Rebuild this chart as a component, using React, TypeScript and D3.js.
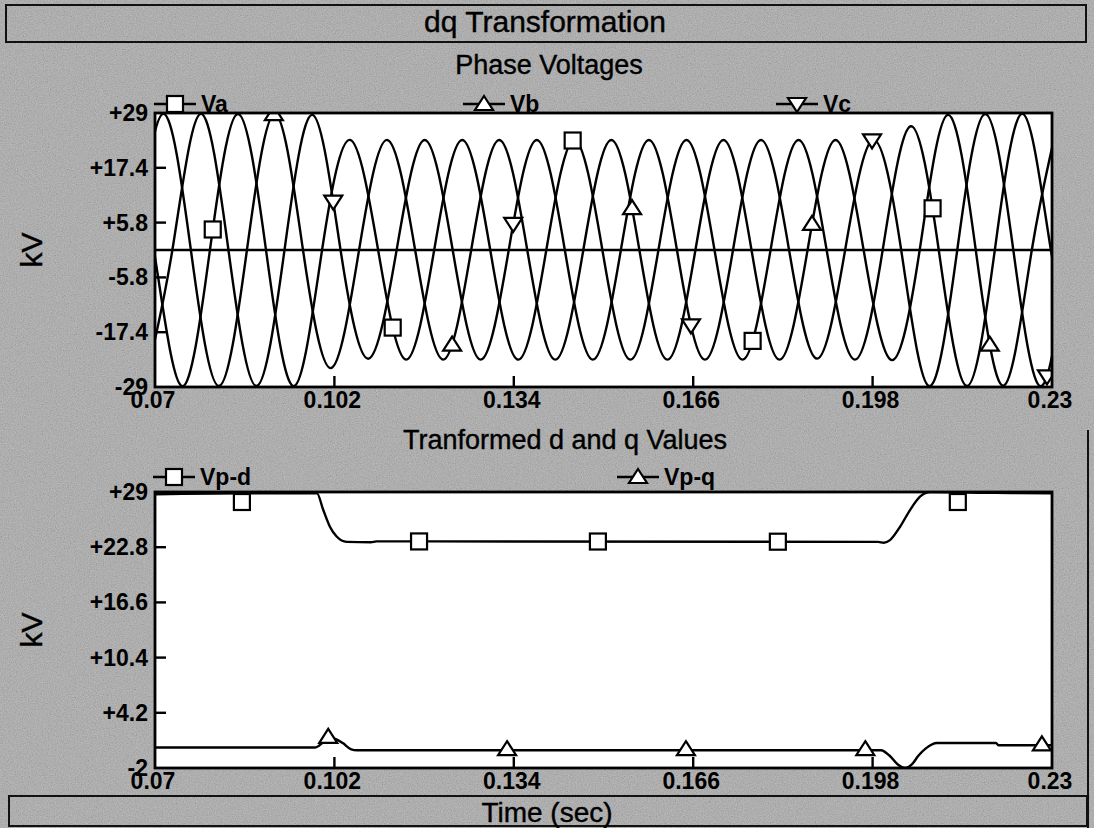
import React, { useEffect, useRef } from "react";
import * as d3 from "d3";

// Axis ticks
const X_TICKS = [0.07, 0.102, 0.134, 0.166, 0.198, 0.23];
const TOP_Y_TICKS = [29, 17.4, 5.8, -5.8, -17.4, -29];
const BOTTOM_Y_TICKS = [29, 22.8, 16.6, 10.4, 4.2, -2];

// Phase voltages: successive half-cycle extremes (kV), 50 Hz => 0.01 s apart
const HALF_CYCLE = 0.01;
const VA_START = 0.0648;
const VA_EXTREMES = [28.8, -28.8, 28.8, -28.8, 23.3, -23.2, 23.3, -23.2, 23.3, -23.2, 23.3, -23.2, 23.3, -23.2, 26.2, -28.8, 28.8, -28.8];
const VB_START = 0.0614;
const VB_EXTREMES = [-28.8, 28.8, -28.8, 28.8, -25.0, 23.3, -23.2, 23.3, -23.2, 23.3, -23.2, 23.3, -23.2, 23.3, -23.3, 28.6, -28.7, 28.8];
const VC_START = 0.0681;
const VC_EXTREMES = [-28.8, 28.8, -28.8, 28.6, -23.0, 23.3, -23.2, 23.3, -23.2, 23.3, -23.2, 23.3, -23.0, 23.3, -28.8, 28.8, -28.8, 28.8];

// Marker times on each trace (s)
const VA_MARKERS = [0.0803, 0.1124, 0.1445, 0.1766, 0.2087];
const VB_MARKERS = [0.0912, 0.123, 0.1551, 0.1872, 0.2189];
const VC_MARKERS = [0.1018, 0.1339, 0.1656, 0.1979, 0.2291];
const VPD_MARKERS = [0.0855, 0.1171, 0.149, 0.1811, 0.2132];
const VPQ_MARKERS = [0.1009, 0.1328, 0.1647, 0.1967, 0.2282];

// Transformed d and q values
const VPD_T = [0.07, 0.0855, 0.0989, 0.1, 0.1012, 0.1024, 0.1042, 0.1085, 0.1095, 0.199, 0.2, 0.2011, 0.2029, 0.2047, 0.2065, 0.2083, 0.22, 0.23];
const VPD_V = [28.75, 28.85, 28.85, 27.0, 25.1, 24.0, 23.4, 23.35, 23.45, 23.4, 23.3, 23.6, 25.1, 27.0, 28.5, 29.0, 28.9, 28.85];
const VPQ_T = [0.07, 0.0985, 0.1, 0.101, 0.102, 0.1035, 0.105, 0.106, 0.1995, 0.201, 0.2025, 0.2038, 0.205, 0.2062, 0.2075, 0.2095, 0.22, 0.2205, 0.23];
const VPQ_V = [0.3, 0.3, 0.9, 1.4, 1.3, 0.8, 0.1, 0.0, 0.0, -0.6, -1.6, -2.0, -1.6, -0.6, 0.2, 0.8, 0.8, 0.55, 0.55];

const FONT = "'Liberation Sans', Arial, sans-serif";
const W = 1094;
const H = 828;
const PLOT_L = 155;
const PLOT_R = 1052;
const TOP_T = 113;
const TOP_B = 387;
const BOT_T = 492;
const BOT_B = 768;
const LINE_W = 2.4;

type Pt = [number, number];

function phasePoints(start: number, extremes: number[]): Pt[] {
  const pts: Pt[] = [];
  extremes.forEach((v, i) => {
    const t = start + i * HALF_CYCLE;
    pts.push([t, v]);
    if (i < extremes.length - 1) pts.push([t + HALF_CYCLE / 2, 0]);
  });
  return pts;
}

function yOnPath(path: SVGPathElement, px: number): number {
  const total = path.getTotalLength();
  let lo = 0;
  let hi = total;
  for (let i = 0; i < 40; i++) {
    const mid = (lo + hi) / 2;
    const p = path.getPointAtLength(mid);
    if (p.x < px) lo = mid;
    else hi = mid;
  }
  return path.getPointAtLength((lo + hi) / 2).y;
}

type MarkerKind = "square" | "up" | "down";

function drawMarker(g: d3.Selection<SVGGElement, unknown, null, undefined>, kind: MarkerKind, cx: number, cy: number) {
  if (kind === "square") {
    g.append("rect")
      .attr("x", cx - 8).attr("y", cy - 8).attr("width", 16).attr("height", 16)
      .attr("fill", "white").attr("stroke", "#000").attr("stroke-width", 2.2);
  } else {
    const s = kind === "up" ? 1 : -1;
    g.append("path")
      .attr("d", `M${cx},${cy - 8 * s} L${cx + 9},${cy + 6 * s} L${cx - 9},${cy + 6 * s} Z`)
      .attr("fill", "white").attr("stroke", "#000").attr("stroke-width", 2.2);
  }
}

export default function App() {
  const ref = useRef<SVGSVGElement>(null);

  useEffect(() => {
    const svg = d3.select(ref.current!);
    svg.selectAll("*").remove();

    const x = d3.scaleLinear().domain([0.07, 0.23]).range([PLOT_L, PLOT_R]);
    const yTop = d3.scaleLinear().domain([-29, 29]).range([TOP_B, TOP_T]);
    const yBot = d3.scaleLinear().domain([-2, 29]).range([BOT_B, BOT_T]);

    const defs = svg.append("defs");
    // grainy grey paper texture of the window background
    const grain = defs.append("filter").attr("id", "grain").attr("x", 0).attr("y", 0).attr("width", "100%").attr("height", "100%");
    grain.append("feTurbulence").attr("type", "fractalNoise").attr("baseFrequency", 0.85).attr("numOctaves", 2).attr("seed", 7);
    grain.append("feColorMatrix").attr("type", "matrix")
      .attr("values", "0.5 0.5 0.5 0 -0.12  0.5 0.5 0.5 0 -0.12  0.5 0.5 0.5 0 -0.12  0 0 0 0 1");
    defs.append("clipPath").attr("id", "clipTop").append("rect")
      .attr("x", PLOT_L).attr("y", TOP_T).attr("width", PLOT_R - PLOT_L).attr("height", TOP_B - TOP_T);
    defs.append("clipPath").attr("id", "clipBot").append("rect")
      .attr("x", PLOT_L).attr("y", BOT_T).attr("width", PLOT_R - PLOT_L).attr("height", BOT_B - BOT_T);

    // background
    svg.append("rect").attr("width", W).attr("height", H).attr("fill", "#9c9c9c");
    svg.append("rect").attr("width", W).attr("height", H).attr("filter", "url(#grain)").attr("opacity", 0.35);

    // title bars
    svg.append("rect").attr("x", 6).attr("y", 5).attr("width", 1080).attr("height", 37)
      .attr("fill", "none").attr("stroke", "#111").attr("stroke-width", 2);
    svg.append("rect").attr("x", 9).attr("y", 796).attr("width", 1078).attr("height", 30)
      .attr("fill", "none").attr("stroke", "#111").attr("stroke-width", 2);

    const text = (tx: number, ty: number, s: string, size: number, anchor = "middle", weight = "normal") =>
      svg.append("text").attr("x", tx).attr("y", ty).attr("text-anchor", anchor)
        .attr("font-family", FONT).attr("font-size", size).attr("font-weight", weight)
        .attr("fill", "#000").attr("stroke", "#000").attr("stroke-width", weight === "bold" ? 0 : 0.4).text(s);

    text(545, 32, "dq Transformation", 30);
    text(549, 74, "Phase Voltages", 27);
    text(565, 449, "Tranformed d and q Values", 27);
    text(547, 822, "Time (sec)", 28);

    const kv = (cy: number) =>
      svg.append("text").attr("transform", `translate(42,${cy}) rotate(-90)`)
        .attr("text-anchor", "middle").attr("font-family", FONT).attr("font-size", 30)
        .attr("stroke", "#000").attr("stroke-width", 0.4).text("kV");
    kv(250);
    kv(630);

    const fmtY = (v: number) => (v > 0 ? "+" + v : String(v));

    const panel = (yS: d3.ScaleLinear<number, number>, top: number, bottom: number, yTicks: number[], clip: string, zero: boolean) => {
      svg.append("rect").attr("x", PLOT_L).attr("y", top).attr("width", PLOT_R - PLOT_L).attr("height", bottom - top)
        .attr("fill", "white");
      const g = svg.append("g");
      yTicks.forEach((v, i) => {
        text(148, yS(v) + 8, fmtY(v), 23, "end", "bold");
        if (i > 0 && i < yTicks.length - 1) {
          g.append("line").attr("x1", PLOT_L).attr("x2", PLOT_L + 11).attr("y1", yS(v)).attr("y2", yS(v))
            .attr("stroke", "#000").attr("stroke-width", LINE_W);
        }
      });
      X_TICKS.forEach((t, i) => {
        text(x(t) - 2, bottom + 21, String(t), 23, "middle", "bold");
        if (i > 0 && i < X_TICKS.length - 1) {
          g.append("line").attr("x1", x(t)).attr("x2", x(t)).attr("y1", bottom).attr("y2", bottom - 11)
            .attr("stroke", "#000").attr("stroke-width", LINE_W);
        }
      });
      if (zero) {
        g.append("line").attr("x1", PLOT_L).attr("x2", PLOT_R).attr("y1", yS(0)).attr("y2", yS(0))
          .attr("stroke", "#000").attr("stroke-width", LINE_W);
      }
      return svg.append("g").attr("clip-path", `url(#${clip})`);
    };

    // ---- Phase voltages ----
    const topG = panel(yTop, TOP_T, TOP_B, TOP_Y_TICKS, "clipTop", true);
    const natural = d3.line<Pt>().x((d) => x(d[0])).y((d) => yTop(d[1])).curve(d3.curveNatural);
    const phases: { start: number; ext: number[]; markers: number[]; kind: MarkerKind }[] = [
      { start: VA_START, ext: VA_EXTREMES, markers: VA_MARKERS, kind: "square" },
      { start: VB_START, ext: VB_EXTREMES, markers: VB_MARKERS, kind: "up" },
      { start: VC_START, ext: VC_EXTREMES, markers: VC_MARKERS, kind: "down" },
    ];
    const phasePaths = phases.map((p) =>
      topG.append("path").attr("d", natural(phasePoints(p.start, p.ext))!)
        .attr("fill", "none").attr("stroke", "#000").attr("stroke-width", LINE_W).node() as SVGPathElement
    );
    const topMarkers = svg.append("g").attr("clip-path", "url(#clipTop)");
    phases.forEach((p, i) => {
      p.markers.forEach((t) => drawMarker(topMarkers, p.kind, x(t), yOnPath(phasePaths[i], x(t))));
    });
    svg.append("rect").attr("x", PLOT_L).attr("y", TOP_T).attr("width", PLOT_R - PLOT_L).attr("height", TOP_B - TOP_T)
      .attr("fill", "none").attr("stroke", "#000").attr("stroke-width", 2.8);

    // ---- d and q values ----
    const botG = panel(yBot, BOT_T, BOT_B, BOTTOM_Y_TICKS, "clipBot", false);
    const dq = d3.line<Pt>().x((d) => x(d[0])).y((d) => yBot(d[1])).curve(d3.curveMonotoneX);
    const vpd: Pt[] = VPD_T.map((t, i) => [t, VPD_V[i]]);
    const vpq: Pt[] = VPQ_T.map((t, i) => [t, VPQ_V[i]]);
    const pd = botG.append("path").attr("d", dq(vpd)!).attr("fill", "none").attr("stroke", "#000").attr("stroke-width", LINE_W).node() as SVGPathElement;
    const pq = botG.append("path").attr("d", dq(vpq)!).attr("fill", "none").attr("stroke", "#000").attr("stroke-width", LINE_W).node() as SVGPathElement;
    const botMarkers = svg.append("g").attr("clip-path", "url(#clipBot)");
    VPD_MARKERS.forEach((t) => drawMarker(botMarkers, "square", x(t), Math.max(yOnPath(pd, x(t)), BOT_T + 10)));
    VPQ_MARKERS.forEach((t) => drawMarker(botMarkers, "up", x(t), yOnPath(pq, x(t)) - 1));
    svg.append("rect").attr("x", PLOT_L).attr("y", BOT_T).attr("width", PLOT_R - PLOT_L).attr("height", BOT_B - BOT_T)
      .attr("fill", "none").attr("stroke", "#000").attr("stroke-width", 2.8);

    // ---- legends ----
    const legend = (x0: number, cy: number, kind: MarkerKind, label: string) => {
      const g = svg.append("g");
      g.append("line").attr("x1", x0).attr("x2", x0 + 42).attr("y1", cy).attr("y2", cy).attr("stroke", "#000").attr("stroke-width", LINE_W);
      drawMarker(g, kind, x0 + 21, cy);
      g.append("text").attr("x", x0 + 47).attr("y", cy + 8).attr("font-family", FONT).attr("font-size", 23)
        .attr("font-weight", "bold").text(label);
    };
    legend(154, 104, "square", "Va");
    legend(463, 104, "up", "Vb");
    legend(776, 104, "down", "Vc");
    legend(153, 477, "square", "Vp-d");
    legend(617, 477, "up", "Vp-q");

    // right frame edge
    svg.append("line").attr("x1", 1088).attr("x2", 1088).attr("y1", 430).attr("y2", H).attr("stroke", "#111").attr("stroke-width", 2);
  }, []);

  return <svg ref={ref} width={W} height={H} style={{ position: "absolute", left: 0, top: 0 }} />;
}
